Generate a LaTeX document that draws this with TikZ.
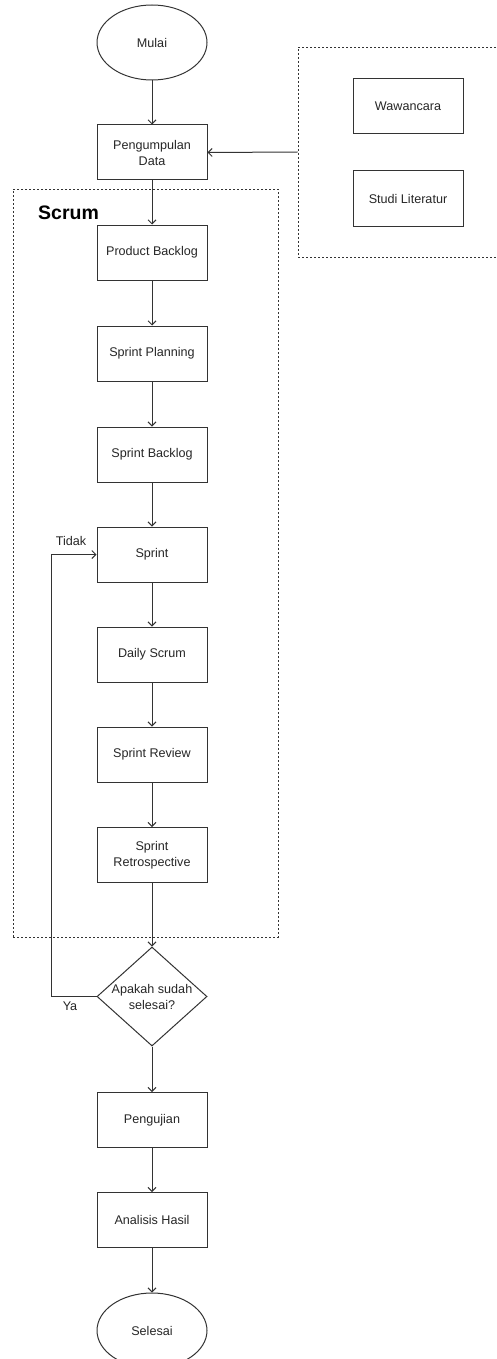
\documentclass[tikz,border=0pt]{standalone}
\usepackage{fontspec}
\setmainfont{Liberation Sans}
\usetikzlibrary{shapes.geometric,arrows.meta}
\definecolor{ln}{HTML}{333333}
\tikzset{
  every node/.style={font=\fontsize{12.6}{16}\selectfont, text=black!85},
  box/.style={draw=ln, line width=1pt, rectangle, minimum width=110pt, minimum height=55pt, align=center, inner sep=0pt},
  term/.style={draw=ln, line width=1pt, ellipse, minimum width=110pt, minimum height=75pt, inner sep=0pt},
  dec/.style={draw=ln, line width=1pt, diamond, aspect=1.11, minimum width=110pt, minimum height=99pt, inner sep=0pt, align=center},
  dashbox/.style={draw=ln, line width=0.8pt, dash pattern=on 2pt off 2pt, rectangle, inner sep=0pt},
  arr/.style={draw=ln, line width=1pt, -{Straight Barb[length=4pt,width=8pt]}},
  lbl/.style={inner sep=0pt}
}
\begin{document}
\begin{tikzpicture}[x=1pt,y=-1pt]
\useasboundingbox (0,0) rectangle (496,1359);
% containers
\node[dashbox, minimum width=265pt, minimum height=748pt] (scrum) at (145.5,563) {};
\node[dashbox, minimum width=204pt, minimum height=210pt] (src) at (400,152) {};
\node[lbl, font=\fontsize{19.5}{22}\selectfont\bfseries, text=black, anchor=west] (scrumlbl) at (38,213) {Scrum};
% flow nodes
\node[term] (mulai) at (152,42.5) {Mulai};
\node[box] (pd) at (152,152.5) {Pengumpulan\\Data};
\node[box] (wc) at (408,106.5) {Wawancara};
\node[box] (sl) at (408,198.5) {Studi Literatur};
\node[box] (pb) at (152,252.5) {Product Backlog};
\node[box] (sp) at (152,353.5) {Sprint Planning};
\node[box] (sb) at (152,454.5) {Sprint Backlog};
\node[box] (s) at (152,554.5) {Sprint};
\node[box] (ds) at (152,654.5) {Daily Scrum};
\node[box] (sr) at (152,754.5) {Sprint Review};
\node[box] (ret) at (152,855) {Sprint\\Retrospective};
\node[dec] (d) at (152,996.5) {Apakah sudah\\selesai?};
\node[box] (uj) at (152,1120) {Pengujian};
\node[box] (ah) at (152,1220) {Analisis Hasil};
\node[term] (end) at (152,1330.5) {Selesai};
% connectors
\draw[arr] (mulai) -- (pd);
\draw[arr] (src.west) -- (pd.east);
\draw[arr] (pd) -- (pb);
\draw[arr] (pb) -- (sp);
\draw[arr] (sp) -- (sb);
\draw[arr] (sb) -- (s);
\draw[arr] (s) -- (ds);
\draw[arr] (ds) -- (sr);
\draw[arr] (sr) -- (ret);
\draw[arr] (ret) -- (d);
\draw[arr] (d) -- (uj);
\draw[arr] (uj) -- (ah);
\draw[arr] (ah) -- (end);
\draw[arr] (d.west) -- ++(-45,0) |- (s.west);
\node[lbl] (ya) at (70,1006) {Ya};
\node[lbl] (tidak) at (71,541) {Tidak};
\end{tikzpicture}
\end{document}
